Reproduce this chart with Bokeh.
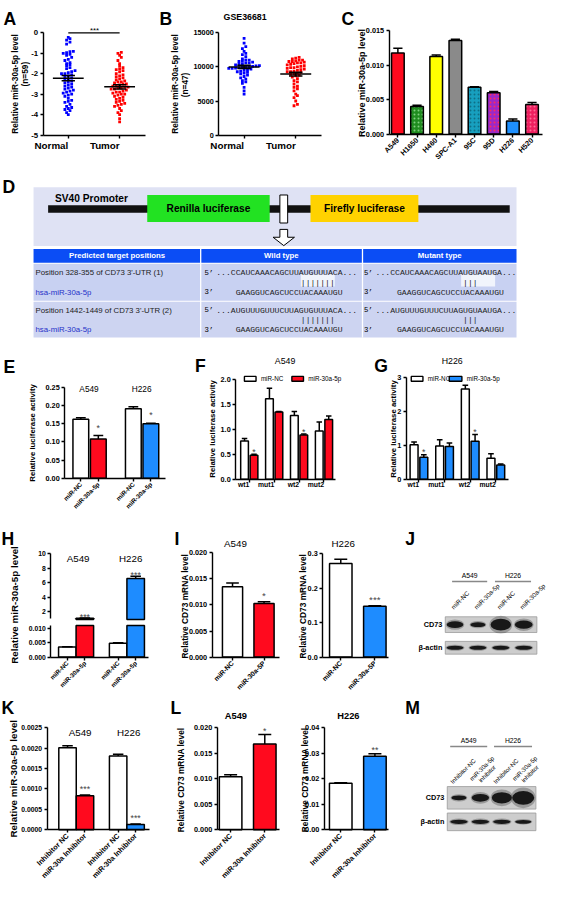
import numpy as np
from math import pi
from bokeh.plotting import figure
from bokeh.layouts import row, column
from bokeh.models import Label, FixedTicker, NumeralTickFormatter, Range1d
from bokeh.embed import file_html
from bokeh.resources import INLINE

# ---------------- DATA ----------------
a_groups = ["Normal", "Tumor"]
a_normal = [-0.22, -0.28, -0.35, -0.45, -0.55, -0.90, -0.92, -0.97, -1.00, -1.05,
            -1.10, -1.20, -1.30, -1.35, -1.45, -1.50, -1.55, -1.60, -1.70, -1.75,
            -1.85, -1.90, -1.95, -2.00, -2.00, -2.05, -2.10, -2.15, -2.20, -2.25,
            -2.30, -2.35, -2.40, -2.45, -2.50, -2.55, -2.60, -2.65, -2.70, -2.75,
            -2.80, -2.85, -2.90, -2.95, -3.00, -3.05, -3.10, -3.20, -3.30, -3.35,
            -3.40, -3.50, -3.60, -3.65, -3.70, -3.75, -3.80, -3.90, -4.00]
a_tumor = [-0.95, -1.00, -1.10, -1.20, -1.35, -1.50, -1.60, -1.70, -1.75, -1.80,
           -1.85, -1.90, -2.00, -2.05, -2.10, -2.15, -2.20, -2.25, -2.30, -2.35,
           -2.40, -2.40, -2.45, -2.50, -2.50, -2.55, -2.60, -2.60, -2.65, -2.65,
           -2.70, -2.70, -2.75, -2.75, -2.80, -2.85, -2.90, -2.90, -2.95, -3.00,
           -3.00, -3.05, -3.10, -3.15, -3.20, -3.25, -3.30, -3.35, -3.40, -3.45,
           -3.50, -3.55, -3.60, -3.70, -3.80, -3.90, -4.00, -4.20, -4.35]
b_normal = [14200, 13500, 13000, 12700, 12300, 12000, 11800, 11500, 11200, 11000,
            10900, 10800, 10700, 10600, 10500, 10400, 10300, 10200, 10150, 10100,
            10050, 10000, 9950, 9900, 9850, 9800, 9700, 9600, 9500, 9400,
            9300, 9200, 9100, 9000, 8800, 8600, 8400, 8200, 8000, 7800,
            7600, 7000, 6500, 6000, 11000, 10600, 9800]
b_tumor = [11400, 11300, 11200, 11000, 11000, 10900, 10800, 10700, 10600, 10500,
           10400, 10300, 10200, 10100, 10000, 9900, 9800, 9700, 9600, 9500,
           9400, 9300, 9200, 9100, 9000, 8900, 8700, 8500, 8300, 8000,
           7800, 7500, 7200, 7000, 6800, 6500, 6000, 5800, 5500, 5000,
           4500, 4300, 10800, 10600, 9900, 9300, 8800]

c_lines = ["A549", "H1650", "H460", "SPC-A1", "95C", "95D", "H226", "H520"]
c_level = [0.0118, 0.0040, 0.0113, 0.0136, 0.0068, 0.0060, 0.0019, 0.0043]
c_sem = [0.0007, 0.0002, 0.0002, 0.0002, 0.0001, 0.0002, 0.0003, 0.0003]

cells = ["A549", "H226"]
e_labels = ["miR-NC", "miR-30a-5p"]
e_nc = [0.163, 0.192]
e_nc_sem = [0.004, 0.005]
e_mir = [0.108, 0.150]
e_mir_sem = [0.010, 0.002]
e_stars = ["*", "*"]

reporters = ["wt1", "mut1", "wt2", "mut2"]
f_nc = [0.77, 1.62, 1.28, 0.97]
f_nc_sem = [0.05, 0.21, 0.08, 0.18]
f_mir = [0.48, 1.35, 0.89, 1.20]
f_mir_sem = [0.02, 0.01, 0.02, 0.07]
f_stars = ["*", "", "*", ""]
g_nc = [1.02, 0.98, 2.67, 0.62]
g_nc_sem = [0.08, 0.19, 0.11, 0.13]
g_mir = [0.65, 0.97, 1.12, 0.42]
g_mir_sem = [0.07, 0.10, 0.20, 0.03]
g_stars = ["*", "", "*", ""]

h_labels = ["miR-NC", "miR-30a-5p"]
h_nc = [0.0035, 0.0048]
h_nc_sem = [0.0001, 0.0002]
h_mir = [1.10, 6.60]
h_mir_sem = [0.03, 0.30]
h_stars = ["***", "***"]

i_labels = ["miR-NC", "miR-30a-5P"]
i_a549 = [0.0135, 0.0103]
i_a549_sem = [0.0007, 0.0003]
i_a549_stars = ["", "*"]
i_h226 = [0.272, 0.148]
i_h226_sem = [0.012, 0.001]
i_h226_stars = ["", "***"]

j_lanes = ["miR-NC", "miR-30a-5p", "miR-NC", "miR-30a-5p"]
j_cd73 = [0.50, 0.30, 1.00, 0.65]
j_actin = [0.55, 0.55, 0.55, 0.55]

k_labels = ["Inhibitor NC", "miR-30a Inhibitor"]
k_nc = [0.00201, 0.00181]
k_nc_sem = [0.00005, 0.00004]
k_inh = [0.00083, 0.00013]
k_inh_sem = [0.00002, 0.00001]
k_stars = ["***", "***"]

l_labels = ["Inhibitor NC", "miR-30a Inhibitor"]
l_a549 = [0.0104, 0.0168]
l_a549_sem = [0.0004, 0.0019]
l_a549_stars = ["", "*"]
l_h226 = [0.0182, 0.0288]
l_h226_sem = [0.0002, 0.0010]
l_h226_stars = ["", "**"]

m_lanes = [["Inhibitor-NC"], ["miR-30a-5p", "inhibitor"], ["Inhibitor-NC"], ["miR-30a-5p", "inhibitor"]]
m_cd73 = [0.30, 0.60, 0.95, 1.20]
m_actin = [0.60, 0.60, 0.60, 0.45]

# ---------------- STYLE / GEOMETRY ----------------
FONT = "Liberation Sans"
MONO = "Liberation Mono"
RED = "#ff0a1e"
BLUE = "#1e8cff"
SX = 551 / 567
SY = 887 / 903
FS = 0.975


def X(v):
    return int(round(v * SX))


def Y(v):
    return int(round(v * SY))


def fs(s):
    return f"{s * FS:.1f}px"


class Chart:
    """A panel whose frame fills its whole box; the chart axes sit at fixed locations inside."""

    def __init__(self, box, frame=None, xr=None, yr=None, xaxis=True, yaxis=True):
        x0, y0, x1, y1 = box
        if frame is None:
            frame = box
        if xr is None:
            xr = (x0, x1)
        if yr is None:
            yr = (y1, y0)
        self.box, self.frame, self.xr, self.yr = box, frame, xr, yr
        full_x = (self.dx(x0), self.dx(x1))
        full_y = (self.dy(y1), self.dy(y0))
        kw = {}
        if not xaxis:
            kw["x_axis_location"] = None
        if not yaxis:
            kw["y_axis_location"] = None
        p = figure(width=X(x1) - X(x0), height=Y(y1) - Y(y0),
                   x_range=Range1d(*full_x), y_range=Range1d(*full_y),
                   output_backend="svg", toolbar_location=None, min_border=0,
                   min_border_left=0, min_border_right=0, min_border_top=0,
                   min_border_bottom=0, **kw)
        p.outline_line_color = None
        p.xgrid.visible = False
        p.ygrid.visible = False
        if xaxis:
            p.xaxis[0].fixed_location = yr[0]
            p.xaxis[0].bounds = tuple(xr)
        if yaxis:
            p.yaxis[0].fixed_location = xr[0]
            p.yaxis[0].bounds = tuple(yr)
        self.p = p

    def dx(self, px):
        fl, ft, fr, fb = self.frame
        a, b = self.xr
        return a + (px - fl) / (fr - fl) * (b - a)

    def dy(self, py):
        fl, ft, fr, fb = self.frame
        a, b = self.yr
        return a + (fb - py) / (fb - ft) * (b - a)

    def upp(self):
        fl, ft, fr, fb = self.frame
        a, b = self.yr
        return (b - a) / (fb - ft)

    def label(self, px, py, text, size, bold=False, align="center", baseline="middle",
              angle=0.0, color="black", font=FONT):
        self.p.add_layout(Label(x=self.dx(px), y=self.dy(py), text=text, text_font=font,
                                text_font_size=fs(size),
                                text_font_style="bold" if bold else "normal",
                                text_align=align, text_baseline=baseline, angle=angle,
                                text_color=color))

    def letter(self, px, py, text):
        self.label(px, py, text, 18, bold=True, align="left", baseline="alphabetic")


def style_axis(ax, size, bold=True, lw=1.4):
    ax.axis_line_width = lw
    ax.axis_line_color = "black"
    ax.major_tick_line_width = lw
    ax.major_tick_line_color = "black"
    ax.major_tick_out = 3
    ax.major_tick_in = 0
    ax.minor_tick_line_color = None
    ax.major_label_text_font = FONT
    ax.major_label_text_font_size = fs(size)
    ax.major_label_text_font_style = "bold" if bold else "normal"
    ax.major_label_text_color = "black"
    ax.major_label_standoff = 2


def set_y(C, ticks, fmt, size, bounds=None):
    ax = C.p.yaxis[0]
    style_axis(ax, size)
    ax.ticker = FixedTicker(ticks=list(ticks))
    ax.formatter = NumeralTickFormatter(format=fmt)
    if bounds is not None:
        ax.bounds = bounds


def key(v):
    v = float(v)
    return int(v) if v.is_integer() else v


def set_x(C, pos, labels, size, angle=0.0, bold=True, standoff=2):
    ax = C.p.xaxis[0]
    style_axis(ax, size, bold)
    ax.ticker = FixedTicker(ticks=[float(v) for v in pos])
    ax.major_label_overrides = {key(v): l for v, l in zip(pos, labels)}
    ax.major_label_orientation = angle
    ax.major_label_standoff = standoff


def draw_bars(C, xs, tops, sems, fills, width, cap, lw=1.5, bottom=0.0, errors=True, **kw):
    xs = np.asarray(xs, float)
    tops = np.asarray(tops, float)
    sems = np.asarray(sems, float)
    C.p.vbar(x=xs, top=tops, bottom=bottom, width=width, fill_color=fills,
             line_color="black", line_width=lw, **kw)
    if errors:
        C.p.segment(x0=xs, y0=tops, x1=xs, y1=tops + sems, line_color="black", line_width=lw)
        C.p.segment(x0=xs - cap, y0=tops + sems, x1=xs + cap, y1=tops + sems,
                    line_color="black", line_width=lw)


def draw_stars(C, xs, tops, sems, marks, gap, size):
    u = C.upp()
    for x, t, s, m in zip(xs, tops, sems, marks):
        if m:
            C.p.add_layout(Label(x=float(x), y=t + s + gap * u, text=m, text_align="center",
                                 text_baseline="alphabetic", text_font=FONT,
                                 text_font_size=fs(size)))


def swarm(vals, row_h, step):
    v = np.asarray(vals, float)
    bins = np.round(v / row_h).astype(int)
    off = np.zeros_like(v)
    for b in np.unique(bins):
        idx = np.where(bins == b)[0]
        idx = idx[np.argsort(v[idx])]
        n = len(idx)
        off[idx] = (np.arange(n) - (n - 1) / 2) * step
    return off


def scatter_panel(C, groups, row_h):
    for k, (vals, col) in enumerate(groups):
        vals = np.asarray(vals, float)
        off = swarm(vals, row_h, 0.066)
        C.p.scatter(x=k + off, y=vals, marker="square", size=2.8, color=col, line_width=0)
        m = vals.mean()
        s = vals.std(ddof=1) / np.sqrt(len(vals))
        C.p.segment(x0=[k - 0.3, k - 0.13, k - 0.13, k], y0=[m, m + s, m - s, m - s],
                    x1=[k + 0.3, k + 0.13, k + 0.13, k], y1=[m, m + s, m - s, m + s],
                    line_color="black", line_width=1.5)


# ---------------- ROW 1 : A B C ----------------
A = Chart((0, 0, 160, 168), (44, 33, 150, 137), (-0.49, 1.51), (-5, 0))
scatter_panel(A, [(a_normal, "#0000ff"), (a_tumor, "#ff0000")], 0.16)
set_y(A, [-5, -4, -3, -2, -1, 0], "0", 8, bounds=(-5, 0))
set_x(A, [0, 1], a_groups, 10, standoff=7)
A.p.segment(x0=[0], y0=[0], x1=[1], y1=[0], line_color="black", line_width=1.3)
A.label(97, 31, "***", 8)
A.letter(3, 19, "A")
A.label(15, 85, "Relative miR-30a-5p level", 8.5, bold=True, angle=pi / 2)
A.label(25, 75, "(n=59)", 8.5, bold=True, angle=pi / 2)

B = Chart((160, 0, 350, 168), (225, 33, 330, 137), (-0.49, 1.49), (0, 15000))
scatter_panel(B, [(b_normal, "#0000ff"), (b_tumor, "#ff0000")], 476)
set_y(B, [0, 5000, 10000, 15000], "0", 7.5, bounds=(0, 15000))
set_x(B, [0, 1], a_groups, 10, standoff=7)
B.letter(164, 19, "B")
B.label(252, 17, "GSE36681", 9, bold=True)
B.label(180, 85, "Relative miR-30a-5p level", 8.5, bold=True, angle=pi / 2)
B.label(190, 86, "(n=47)", 8.5, bold=True, angle=pi / 2)

C = Chart((350, 0, 567, 168), (400, 31, 558, 136), (-0.457, 7.56), (0, 0.015))
c_fill = ["#ff0a1e", "#1f8c1f", "#ffff00", "#8a8a8a", "#17a0bf", "#9b28c8", "#1e90ff", "#ee1f5f"]
c_hatch = [" ", ".", " ", " ", ".", ".", " ", "."]
c_hcol = ["white", "#7fd07f", "white", "white", "#0d6f86", "#ff2a5a", "white", "#ff6b96"]
draw_bars(C, np.arange(len(c_lines)), c_level, c_sem, c_fill, 0.66, 0.24,
          hatch_pattern=c_hatch, hatch_color=c_hcol, hatch_scale=4, hatch_weight=1)
set_y(C, [0, 0.005, 0.010, 0.015], "0.000", 7.5, bounds=(0, 0.015))
set_x(C, np.arange(len(c_lines)), c_lines, 7.5, angle=pi / 4)
C.letter(351, 19, "C")
C.label(372, 84, "Relative miR-30a-5p level", 9.2, bold=True, angle=pi / 2)

# ---------------- ROW 2 : D ----------------
D = Chart((0, 168, 567, 345), xaxis=False, yaxis=False)
q = D.p
q.quad(left=34, right=531, top=190, bottom=250, fill_color="#dfe2f4", line_color=None)
q.quad(left=49, right=524, top=208.5, bottom=216, fill_color="#111111", line_color=None)
q.quad(left=151, right=277, top=198, bottom=225.5, fill_color="#22e222", line_color=None)
q.quad(left=319, right=430, top=198, bottom=225.5, fill_color="#ffd200", line_color=None)
q.quad(left=287.5, right=295.5, top=198, bottom=226.5, fill_color="white", line_color="black", line_width=1)
q.patch(x=[287.5, 295.5, 295.5, 302.5, 291.5, 280.5, 287.5, 287.5],
        y=[233, 233, 241, 241, 249.5, 241, 241, 233],
        fill_color="white", line_color="black", line_width=1)
q.quad(left=34, right=531, top=253, bottom=267, fill_color="#0b4df5", line_color=None)
q.quad(left=34, right=531, top=268, bottom=305.5, fill_color="#c8d1f2", line_color=None)
q.quad(left=34, right=531, top=306.5, bottom=343, fill_color="#cdd4f1", line_color=None)
q.quad(left=[309, 474], right=[344, 509], top=[279, 279], bottom=[291, 291],
       fill_color="white", fill_alpha=0.75, line_color=None)
q.segment(x0=[206, 372.5], y0=[253, 253], x1=[206, 372.5], y1=[343, 343],
          line_color="white", line_width=1.3)
D.letter(2, 190, "D")
D.label(56, 202, "SV40 Promoter", 10.5, bold=True, align="left")
D.label(214, 212, "Renilla luciferase", 10.5, bold=True)
D.label(374.5, 212, "Firefly luciferase", 10.5, bold=True)
D.label(120, 260, "Predicted target positions", 8, bold=True, color="white")
D.label(289, 260, "Wild type", 8, bold=True, color="white")
D.label(452, 260, "Mutant type", 8, bold=True, color="white")
for ytop, pos_txt, wt, mt in [(277, "Position 328-355 of CD73 3'-UTR (1)",
                               "...CCAUCAAACAGCUUAUGUUUACA...", "...CCAUCAAACAGCUUAUGUAAUGA..."),
                              (315, "Position 1442-1449 of CD73 3'-UTR (2)",
                               "...AUGUUUGUUUCUUAGUGUUUACA...", "...AUGUUUGUUUCUUAGUGUAAUGA...")]:
    D.label(36, ytop, pos_txt, 8, align="left", color="#222222")
    D.label(36, ytop + 20, "hsa-miR-30a-5p", 8, align="left", color="#2630c8")
    D.label(210, ytop, "5\u2019", 7.5, align="left", font=MONO)
    D.label(222, ytop, wt, 8.3, align="left", font=MONO, color="#222222")
    D.label(309, ytop + 10, "|||||||", 8.3, align="left", font=MONO, color="#222222")
    D.label(210, ytop + 20, "3\u2019", 7.5, align="left", font=MONO)
    D.label(242, ytop + 20, "GAAGGUCAGCUCCUACAAAUGU", 8.3, align="left", font=MONO, color="#222222")
    D.label(374, ytop, "5\u2019", 7.5, align="left", font=MONO)
    D.label(386, ytop, mt, 8.3, align="left", font=MONO, color="#222222")
    D.label(476, ytop + 10, "|||", 8.3, align="left", font=MONO, color="#222222")
    D.label(374, ytop + 20, "3\u2019", 7.5, align="left", font=MONO)
    D.label(408, ytop + 20, "GAAGGUCAGCUCCUACAAAUGU", 8.3, align="left", font=MONO, color="#222222")

# ---------------- ROW 3 : E F G ----------------
E = Chart((0, 345, 185, 525), (66, 394, 170, 486), (-0.92, 4.86), (0, 0.25))
e_x_nc = np.arange(len(cells)) * 3.0
e_x_mir = e_x_nc + 1
draw_bars(E, e_x_nc, e_nc, e_nc_sem, "white", 0.9, 0.28)
draw_bars(E, e_x_mir, e_mir, e_mir_sem, [RED, BLUE], 0.9, 0.28)
draw_stars(E, e_x_mir, e_mir, e_mir_sem, e_stars, 8, 9)
set_y(E, [0, 0.05, 0.10, 0.15, 0.20, 0.25], "0.00", 7.5, bounds=(0, 0.25))
e_pos = np.sort(np.concatenate([e_x_nc, e_x_mir]))
set_x(E, e_pos, e_labels * len(cells), 6.5, angle=pi / 4)
E.letter(3, 373, "E")
E.label(91, 395, cells[0], 8.5)
E.label(145, 395, cells[1], 8.5)
E.label(33, 440, "Relative luciferase activity", 8, bold=True, angle=pi / 2)


def grouped(Cc, nc, nc_sem, mir, mir_sem, col, stars, gap):
    g = np.arange(len(reporters), dtype=float)
    draw_bars(Cc, g - 0.19, nc, nc_sem, "white", 0.31, 0.11)
    draw_bars(Cc, g + 0.19, mir, mir_sem, col, 0.31, 0.11)
    draw_stars(Cc, g + 0.19, mir, mir_sem, stars, gap, 9)
    set_x(Cc, g, reporters, 7)


F = Chart((185, 345, 375, 525), (242, 376, 345, 487), (-0.545, 3.46), (0, 2.198))
grouped(F, f_nc, f_nc_sem, f_mir, f_mir_sem, RED, f_stars, 2)
set_y(F, [0, 0.5, 1.0, 1.5, 2.0], "0.0", 7.5, bounds=(0, 2))
F.letter(200, 372, "F")
F.label(293, 367, "A549", 9)
F.label(218, 436, "Relative luciferase activity", 8, bold=True, angle=pi / 2)
F.p.quad(left=F.dx(251), right=F.dx(263), top=F.dy(382.5), bottom=F.dy(387.5),
         fill_color="white", line_color="black", line_width=1.4)
F.p.quad(left=F.dx(300), right=F.dx(312), top=F.dy(382.5), bottom=F.dy(387.5),
         fill_color=RED, line_color="black", line_width=1.4)
F.label(268, 385, "miR-NC", 6.5, align="left")
F.label(317, 385, "miR-30a-5p", 6.5, align="left")

G = Chart((375, 345, 567, 525), (418, 376, 523, 487), (-0.49, 3.5), (0, 3.233))
grouped(G, g_nc, g_nc_sem, g_mir, g_mir_sem, BLUE, g_stars, 3)
set_y(G, [0, 1, 2, 3], "0", 7.5, bounds=(0, 3))
G.letter(385, 372, "G")
G.label(465, 367, "H226", 9)
G.label(405, 436, "Relative luciferase activity", 8, bold=True, angle=pi / 2)
G.p.quad(left=G.dx(423), right=G.dx(435), top=G.dy(382.5), bottom=G.dy(387.5),
         fill_color="white", line_color="black", line_width=1.4)
G.p.quad(left=G.dx(462), right=G.dx(475), top=G.dy(382.5), bottom=G.dy(387.5),
         fill_color=BLUE, line_color="black", line_width=1.4)
G.label(440, 385, "miR-NC", 6.5, align="left")
G.label(480, 385, "miR-30a-5p", 6.5, align="left")

# ---------------- ROW 4 : H I J ----------------
Hlab = Chart((0, 525, 28, 704), xaxis=False, yaxis=False)
Hlab.letter(1, 548, "H")
Hlab.label(15, 615, "Relative miR-30a-5p level", 10, bold=True, angle=pi / 2)

h_x_nc = np.arange(len(cells)) * 2.9
h_x_mir = h_x_nc + 1
# broken y axis: upper segment (1-10) and lower segment (0-0.010), white gap between them
Ht = Chart((28, 525, 175, 632), (52, 560, 152, 630), (-0.94, 4.61), (0.92, 10.41), xaxis=False)
Hb = Chart((28, 632, 175, 704), (52, 636, 152, 668), (-0.94, 4.61), (0, 0.011))
draw_bars(Ht, h_x_mir, h_mir, h_mir_sem, [RED, BLUE], 1.0, 0.3, bottom=Ht.yr[0])
draw_bars(Hb, h_x_nc, h_nc, h_nc_sem, "white", 1.0, 0.3)
draw_bars(Hb, h_x_mir, np.minimum(h_mir, Hb.yr[1]), h_mir_sem, [RED, BLUE], 1.0, 0.3, errors=False)
draw_stars(Ht, h_x_mir, h_mir, h_mir_sem, h_stars, 1, 9)
set_y(Ht, [2, 4, 6, 8, 10], "0", 7, bounds=(1, 10))
set_y(Hb, [0, 0.005, 0.010], "0.000", 7, bounds=(0, 0.011))
set_x(Hb, np.sort(np.concatenate([h_x_nc, h_x_mir])), h_labels * len(cells), 6.5, angle=pi / 4)
Ht.label(80, 568, cells[0], 10)
Ht.label(134, 568, cells[1], 10)

x2 = np.arange(2, dtype=float)
I1 = Chart((175, 525, 305, 704), (218, 562, 287, 668), (-0.646, 1.477), (0, 0.020))
draw_bars(I1, x2, i_a549, i_a549_sem, ["white", RED], 0.64, 0.2)
draw_stars(I1, x2, i_a549, i_a549_sem, i_a549_stars, 6, 10)
set_y(I1, [0, 0.005, 0.010, 0.015, 0.020], "0.000", 7.5, bounds=(0, 0.02))
set_x(I1, x2, i_labels, 7, angle=pi / 4)
I1.letter(179, 548, "I")
I1.label(242, 552, cells[0], 10)
I1.label(190, 615, "Relative CD73 mRNA  level", 8.6, bold=True, angle=pi / 2)

I2 = Chart((305, 525, 410, 704), (332, 563, 400, 668), (-0.53, 1.41), (0, 0.3))
draw_bars(I2, x2, i_h226, i_h226_sem, ["white", BLUE], 0.66, 0.19)
draw_stars(I2, x2, i_h226, i_h226_sem, i_h226_stars, 6, 10)
set_y(I2, [0, 0.1, 0.2, 0.3], "0.0", 7.5, bounds=(0, 0.3))
set_x(I2, x2, i_labels, 7, angle=pi / 4)
I2.label(353, 552, cells[1], 10)
I2.label(312, 615, "Relative CD73 mRNA  level", 8.6, bold=True, angle=pi / 2)


def blot_panel(Cc, centers, xspan, blot_rows, cd73, actin, top_lab, line_y, groups_x):
    for (gx, gl) in groups_x:
        Cc.label((gl[0] + gl[1]) / 2, top_lab, gx, 7)
        Cc.p.segment(x0=[gl[0]], y0=[line_y], x1=[gl[1]], y1=[line_y], line_color="#888888", line_width=1.5)
    for (ytop, ybot, name), inten, hscale in zip(blot_rows, (cd73, actin), (10.0, 4.0)):
        Cc.p.quad(left=xspan[0], right=xspan[1], top=ytop, bottom=ybot,
                  fill_color="#cdcdcd", line_color="#9a9a9a", line_width=0.8)
        yc = (ytop + ybot) / 2
        for xc, v in zip(centers, inten):
            w = 13 + 8 * v
            h = 2 + hscale * v
            Cc.p.ellipse(x=xc, y=yc, width=w * 1.12, height=h * 1.5, fill_color="black",
                         fill_alpha=0.25, line_color=None)
            Cc.p.ellipse(x=xc, y=yc, width=w, height=h, fill_color="#0d0d0d",
                         fill_alpha=0.92, line_color=None)
        Cc.label(xspan[0] - 3, yc, name, 7.5, bold=True, align="right")


J = Chart((410, 525, 567, 704), xaxis=False, yaxis=False)
J.letter(417, 548, "J")
j_centers = 468 + 23.5 * np.arange(len(j_lanes))
blot_panel(J, j_centers, (458, 552), [(627, 643, "CD73"), (652, 665, "\u03b2-actin")],
           j_cd73, j_actin, 585, 591, [(cells[0], (465, 501)), (cells[1], (509, 546))])
for xc, name in zip(j_centers, j_lanes):
    J.label(xc - 3, 618, name, 6.5, align="left", baseline="alphabetic", angle=pi / 4)

# ---------------- ROW 5 : K L M ----------------
K = Chart((0, 704, 172, 903), (48, 740, 153, 844), (-1.17, 4.67), (0, 0.0025))
k_x_nc = np.arange(len(cells)) * 2.9
k_x_inh = k_x_nc + 1
draw_bars(K, k_x_nc, k_nc, k_nc_sem, "white", 1.0, 0.3)
draw_bars(K, k_x_inh, k_inh, k_inh_sem, [RED, BLUE], 1.0, 0.3)
draw_stars(K, k_x_inh, k_inh, k_inh_sem, k_stars, 6, 9)
set_y(K, [0, 0.0005, 0.0010, 0.0015, 0.0020, 0.0025], "0.0000", 7, bounds=(0, 0.0025))
set_x(K, np.sort(np.concatenate([k_x_nc, k_x_inh])), k_labels * len(cells), 7.5, angle=pi / 4)
K.letter(1, 720, "K")
K.label(82, 745, cells[0], 10)
K.label(132, 745, cells[1], 10)
K.label(13, 792, "Relative miR-30a-5p level", 10, bold=True, angle=pi / 2)

L1 = Chart((172, 704, 300, 903), (223, 740, 287, 844), (-0.39, 1.44), (0, 0.020))
draw_bars(L1, x2, l_a549, l_a549_sem, ["white", RED], 0.66, 0.19)
draw_stars(L1, x2, l_a549, l_a549_sem, l_a549_stars, 3, 9)
set_y(L1, [0, 0.005, 0.010, 0.015, 0.020], "0.000", 7.5, bounds=(0, 0.02))
set_x(L1, x2, l_labels, 7.5, angle=pi / 4)
L1.letter(175, 720, "L")
L1.label(242, 728, cells[0], 9.5, bold=True)
L1.label(186, 792, "Relative CD73 mRNA  level", 8.6, bold=True, angle=pi / 2)

L2 = Chart((300, 704, 412, 903), (333, 740, 400, 844), (-0.48, 1.41), (0, 0.04))
draw_bars(L2, x2, l_h226, l_h226_sem, ["white", BLUE], 0.66, 0.19)
draw_stars(L2, x2, l_h226, l_h226_sem, l_h226_stars, 4, 9)
set_y(L2, [0, 0.01, 0.02, 0.03, 0.04], "0.00", 7.5, bounds=(0, 0.04))
set_x(L2, x2, l_labels, 7.5, angle=pi / 4)
L2.label(358, 728, cells[1], 9.5, bold=True)
L2.label(313, 792, "Relative CD73 mRNA  level", 8.6, bold=True, angle=pi / 2)

M = Chart((412, 704, 567, 903), xaxis=False, yaxis=False)
M.letter(417, 720, "M")
m_centers = 472 + 22 * np.arange(len(m_lanes))
blot_panel(M, m_centers, (460, 551), [(800, 823, "CD73"), (827, 845, "\u03b2-actin")],
           m_cd73, m_actin, 753, 759, [(cells[0], (463, 501)), (cells[1], (508, 547))])
for xc, lines in zip(m_centers, m_lanes):
    cx, cy = xc + 4, 784
    if len(lines) == 1:
        M.label(cx, cy, lines[0], 6.3, angle=pi / 4)
    else:
        M.label(cx - 2.7, cy - 2.7, lines[0], 6.3, angle=pi / 4)
        M.label(cx + 2.7, cy + 2.7, lines[1], 6.3, angle=pi / 4)

layout = column(
    row(A.p, B.p, C.p),
    D.p,
    row(E.p, F.p, G.p),
    row(Hlab.p, column(Ht.p, Hb.p), I1.p, I2.p, J.p),
    row(K.p, L1.p, L2.p, M.p),
)

open("out.html", "w").write(file_html(layout, INLINE))
